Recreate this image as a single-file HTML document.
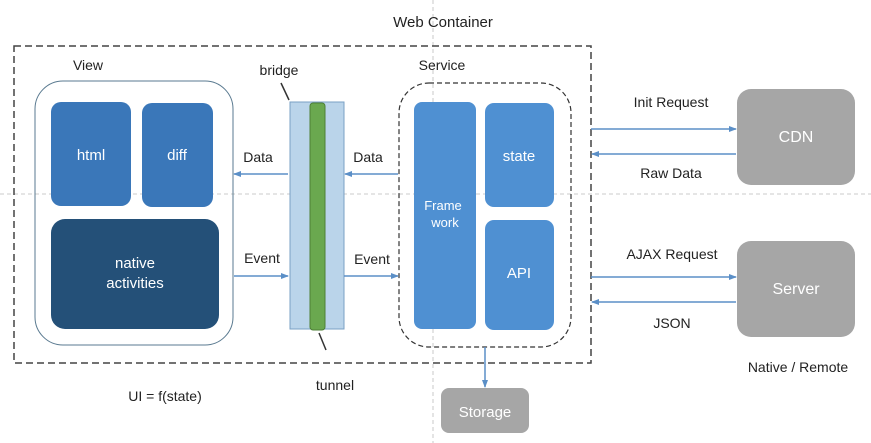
<!DOCTYPE html>
<html><head><style>body{margin:0;background:#fff}svg{display:block}text{font-family:"Liberation Sans",sans-serif}</style></head><body>
<svg width="871" height="443" viewBox="0 0 871 443" xmlns="http://www.w3.org/2000/svg">
<defs><marker id="a" markerWidth="8" markerHeight="8" refX="7" refY="4" orient="auto" markerUnits="userSpaceOnUse"><path d="M0,1 L8,4 L0,7z" fill="#5b8fc7"/></marker></defs>
<line x1="0" y1="194" x2="871" y2="194" stroke="#bbb" stroke-dasharray="4,3" stroke-width="0.8"/>
<line x1="433" y1="0" x2="433" y2="443" stroke="#bbb" stroke-dasharray="4,3" stroke-width="0.8"/>
<rect x="14" y="46" width="577" height="317" fill="none" stroke="#444" stroke-width="1.5" stroke-dasharray="7,4"/>
<text x="443" y="27" font-size="15" text-anchor="middle" fill="#222">Web Container</text>
<rect x="35" y="81" width="198" height="264" rx="28" fill="none" stroke="#5a7a90" stroke-width="1"/>
<text x="88" y="70" font-size="14" text-anchor="middle" fill="#222">View</text>
<rect x="51" y="102" width="80" height="104" rx="10" fill="#3a77b9"/>
<rect x="142" y="103" width="71" height="104" rx="10" fill="#3a77b9"/>
<rect x="51" y="219" width="168" height="110" rx="14" fill="#245078"/>
<rect x="290" y="102" width="54" height="227" fill="#bad4ea" stroke="#7aa0c4"/>
<rect x="310" y="103" width="15" height="227" rx="3" fill="#6aa84f" stroke="#4d7f36"/>
<text x="279" y="75" font-size="14" text-anchor="middle" fill="#222">bridge</text>
<line x1="281" y1="83" x2="289" y2="100" stroke="#333" stroke-width="1.5"/>
<text x="335" y="390" font-size="14" text-anchor="middle" fill="#222">tunnel</text>
<line x1="326" y1="350" x2="319" y2="333" stroke="#333" stroke-width="1.5"/>
<rect x="399" y="83" width="172" height="264" rx="30" fill="none" stroke="#333" stroke-width="1.2" stroke-dasharray="5,3"/>
<text x="442" y="70" font-size="14" text-anchor="middle" fill="#222">Service</text>
<rect x="414" y="102" width="62" height="227" rx="8" fill="#4f90d2"/>
<rect x="485" y="103" width="69" height="104" rx="9" fill="#4f90d2"/>
<rect x="485" y="220" width="69" height="110" rx="9" fill="#4f90d2"/>
<rect x="737" y="89" width="118" height="96" rx="14" fill="#a6a6a6"/>
<rect x="737" y="241" width="118" height="96" rx="14" fill="#a6a6a6"/>
<rect x="441" y="388" width="88" height="45" rx="8" fill="#a6a6a6"/>
<g fill="#fff" font-size="15" text-anchor="middle">
<text x="91" y="160">html</text><text x="177" y="160">diff</text>
<text x="135" y="268">native</text><text x="135" y="288">activities</text>
<text x="443" y="210" font-size="13">Frame</text><text x="445" y="227" font-size="13">work</text>
<text x="519" y="161">state</text><text x="519" y="278">API</text>
<text x="796" y="142" font-size="16">CDN</text><text x="796" y="294" font-size="16">Server</text>
<text x="485" y="417">Storage</text></g>
<g stroke="#5b8fc7" stroke-width="1.5" marker-end="url(#a)">
<line x1="288" y1="174" x2="234" y2="174"/><line x1="398" y1="174" x2="345" y2="174"/>
<line x1="234" y1="276" x2="288" y2="276"/><line x1="344" y1="276" x2="398" y2="276"/>
<line x1="591" y1="129" x2="736" y2="129"/><line x1="736" y1="154" x2="592" y2="154"/>
<line x1="591" y1="277" x2="736" y2="277"/><line x1="736" y1="302" x2="592" y2="302"/>
<line x1="485" y1="347" x2="485" y2="387"/></g>
<g font-size="14" fill="#222" text-anchor="middle">
<text x="258" y="162">Data</text><text x="368" y="162">Data</text>
<text x="262" y="263">Event</text><text x="372" y="264">Event</text>
<text x="671" y="107">Init Request</text><text x="671" y="178">Raw Data</text>
<text x="672" y="259">AJAX Request</text><text x="672" y="328">JSON</text>
<text x="798" y="372">Native / Remote</text><text x="165" y="401">UI = f(state)</text></g>
</svg>
</body></html>
